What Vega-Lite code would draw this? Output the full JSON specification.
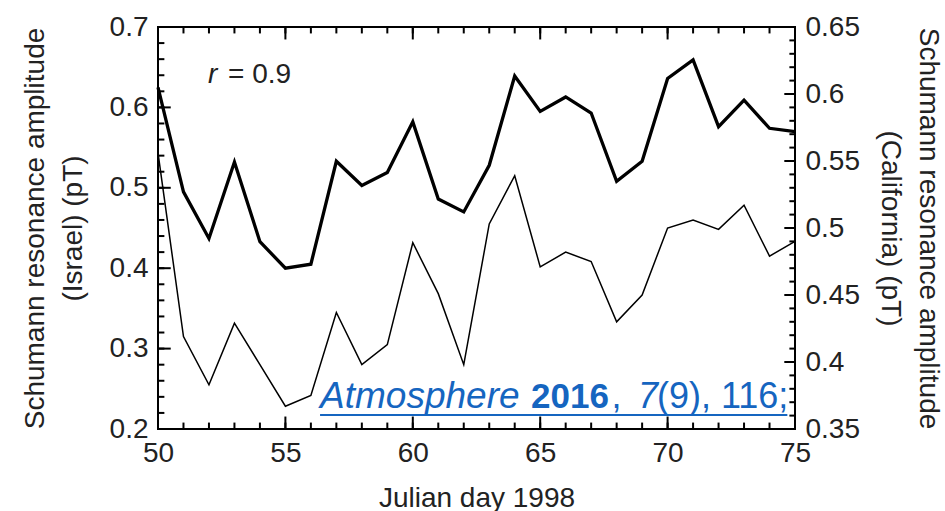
{
  "$schema": "https://vega.github.io/schema/vega-lite/v6.json",
  "width": 637,
  "height": 402,
  "autosize": "none",
  "padding": {"left": 158, "top": 27, "right": 150, "bottom": 82},
  "background": "white",
  "config": {
    "view": {"stroke": "black", "strokeWidth": 2},
    "font": "Liberation Sans",
    "axis": {
      "grid": false,
      "domain": false,
      "ticks": false,
      "labelFont": "Liberation Sans",
      "labelFontSize": 28,
      "labelColor": "#222222",
      "labelFlush": false,
      "labelOverlap": false,
      "titleFont": "Liberation Sans",
      "titleFontSize": 28,
      "titleFontWeight": "normal",
      "titleColor": "#222222"
    },
    "rule": {"color": "#000000", "strokeWidth": 2, "opacity": 1}
  },
  "datasets": {
    "series": [
      {"day": 50, "israel": 0.625, "california": 0.556},
      {"day": 51, "israel": 0.495, "california": 0.419},
      {"day": 52, "israel": 0.437, "california": 0.383},
      {"day": 53, "israel": 0.532, "california": 0.429},
      {"day": 54, "israel": 0.433, "california": 0.398},
      {"day": 55, "israel": 0.400, "california": 0.367},
      {"day": 56, "israel": 0.405, "california": 0.375},
      {"day": 57, "israel": 0.533, "california": 0.437},
      {"day": 58, "israel": 0.503, "california": 0.398},
      {"day": 59, "israel": 0.519, "california": 0.413},
      {"day": 60, "israel": 0.582, "california": 0.489},
      {"day": 61, "israel": 0.486, "california": 0.451},
      {"day": 62, "israel": 0.470, "california": 0.398},
      {"day": 63, "israel": 0.528, "california": 0.503},
      {"day": 64, "israel": 0.639, "california": 0.539},
      {"day": 65, "israel": 0.595, "california": 0.471},
      {"day": 66, "israel": 0.613, "california": 0.482},
      {"day": 67, "israel": 0.593, "california": 0.475},
      {"day": 68, "israel": 0.508, "california": 0.430},
      {"day": 69, "israel": 0.533, "california": 0.450},
      {"day": 70, "israel": 0.636, "california": 0.500},
      {"day": 71, "israel": 0.659, "california": 0.506},
      {"day": 72, "israel": 0.576, "california": 0.499},
      {"day": 73, "israel": 0.609, "california": 0.517},
      {"day": 74, "israel": 0.574, "california": 0.479},
      {"day": 75, "israel": 0.570, "california": 0.490}
    ],
    "days": [{"v":50},{"v":51},{"v":52},{"v":53},{"v":54},{"v":55},{"v":56},{"v":57},{"v":58},{"v":59},{"v":60},{"v":61},{"v":62},{"v":63},{"v":64},{"v":65},{"v":66},{"v":67},{"v":68},{"v":69},{"v":70},{"v":71},{"v":72},{"v":73},{"v":74},{"v":75}],
    "lvals": [{"v":0.2},{"v":0.22},{"v":0.24},{"v":0.26},{"v":0.28},{"v":0.3},{"v":0.32},{"v":0.34},{"v":0.36},{"v":0.38},{"v":0.4},{"v":0.42},{"v":0.44},{"v":0.46},{"v":0.48},{"v":0.5},{"v":0.52},{"v":0.54},{"v":0.56},{"v":0.58},{"v":0.6},{"v":0.62},{"v":0.64},{"v":0.66},{"v":0.68},{"v":0.7}],
    "rvals": [{"v":0.35},{"v":0.36},{"v":0.37},{"v":0.38},{"v":0.39},{"v":0.4},{"v":0.41},{"v":0.42},{"v":0.43},{"v":0.44},{"v":0.45},{"v":0.46},{"v":0.47},{"v":0.48},{"v":0.49},{"v":0.5},{"v":0.51},{"v":0.52},{"v":0.53},{"v":0.54},{"v":0.55},{"v":0.56},{"v":0.57},{"v":0.58},{"v":0.59},{"v":0.6},{"v":0.61},{"v":0.62},{"v":0.63},{"v":0.64},{"v":0.65}]
  },
  "layer": [
    {
      "data": {"name": "series"},
      "mark": {"type": "line", "color": "black", "strokeWidth": 3.3},
      "encoding": {
        "x": {
          "field": "day", "type": "quantitative",
          "scale": {"domain": [50, 75], "nice": false, "zero": false},
          "axis": {
            "orient": "bottom",
            "values": [50, 55, 60, 65, 70, 75],
            "labelPadding": 10,
            "title": "Julian day 1998",
            "titlePadding": 17
          }
        },
        "y": {
          "field": "israel", "type": "quantitative",
          "scale": {"domain": [0.2, 0.7], "nice": false, "zero": false},
          "axis": {
            "orient": "left",
            "values": [0.2, 0.3, 0.4, 0.5, 0.6, 0.7],
            "format": ".1f",
            "labelPadding": 10,
            "title": ["Schumann resonance amplitude", "(Israel) (pT)"],
            "titleLineHeight": 38,
            "titlePadding": 22
          }
        }
      }
    },
    {
      "data": {"name": "series"},
      "mark": {"type": "line", "color": "black", "strokeWidth": 1.5},
      "encoding": {
        "x": {
          "field": "day", "type": "quantitative",
          "scale": {"domain": [50, 75], "nice": false, "zero": false},
          "axis": null
        },
        "y": {
          "field": "california", "type": "quantitative",
          "scale": {"domain": [0.35, 0.65], "nice": false, "zero": false},
          "axis": {
            "orient": "right",
            "values": [0.35, 0.4, 0.45, 0.5, 0.55, 0.6, 0.65],
            "format": ".2~f",
            "labelPadding": 10,
            "title": ["Schumann resonance amplitude", "(California) (pT)"],
            "titleLineHeight": 38,
            "titlePadding": 16
          }
        }
      }
    },
    {
      "data": {"name": "days"},
      "mark": {"type": "rule"},
      "encoding": {
        "x": {"field": "v", "type": "quantitative", "scale": {"domain": [50, 75], "nice": false, "zero": false}, "axis": null},
        "y": {"datum": 0.2, "type": "quantitative", "scale": {"domain": [0.2, 0.7], "nice": false, "zero": false}, "axis": null},
        "y2": {"datum": 0.208}
      }
    },
    {
      "data": {"name": "days"},
      "transform": [{"filter": "datum.v % 5 === 0"}],
      "mark": {"type": "rule"},
      "encoding": {
        "x": {"field": "v", "type": "quantitative", "scale": {"domain": [50, 75], "nice": false, "zero": false}, "axis": null},
        "y": {"datum": 0.2, "type": "quantitative", "scale": {"domain": [0.2, 0.7], "nice": false, "zero": false}, "axis": null},
        "y2": {"datum": 0.2155}
      }
    },
    {
      "data": {"name": "days"},
      "mark": {"type": "rule"},
      "encoding": {
        "x": {"field": "v", "type": "quantitative", "scale": {"domain": [50, 75], "nice": false, "zero": false}, "axis": null},
        "y": {"datum": 0.7, "type": "quantitative", "scale": {"domain": [0.2, 0.7], "nice": false, "zero": false}, "axis": null},
        "y2": {"datum": 0.692}
      }
    },
    {
      "data": {"name": "days"},
      "transform": [{"filter": "datum.v % 5 === 0"}],
      "mark": {"type": "rule"},
      "encoding": {
        "x": {"field": "v", "type": "quantitative", "scale": {"domain": [50, 75], "nice": false, "zero": false}, "axis": null},
        "y": {"datum": 0.7, "type": "quantitative", "scale": {"domain": [0.2, 0.7], "nice": false, "zero": false}, "axis": null},
        "y2": {"datum": 0.6845}
      }
    },
    {
      "data": {"name": "lvals"},
      "mark": {"type": "rule"},
      "encoding": {
        "x": {"datum": 50, "type": "quantitative", "scale": {"domain": [50, 75], "nice": false, "zero": false}, "axis": null},
        "x2": {"datum": 50.25},
        "y": {"field": "v", "type": "quantitative", "scale": {"domain": [0.2, 0.7], "nice": false, "zero": false}, "axis": null}
      }
    },
    {
      "data": {"name": "lvals"},
      "transform": [{"filter": "abs(datum.v*10 - round(datum.v*10)) < 0.001"}],
      "mark": {"type": "rule"},
      "encoding": {
        "x": {"datum": 50, "type": "quantitative", "scale": {"domain": [50, 75], "nice": false, "zero": false}, "axis": null},
        "x2": {"datum": 50.5},
        "y": {"field": "v", "type": "quantitative", "scale": {"domain": [0.2, 0.7], "nice": false, "zero": false}, "axis": null}
      }
    },
    {
      "data": {"name": "rvals"},
      "mark": {"type": "rule"},
      "encoding": {
        "x": {"datum": 75, "type": "quantitative", "scale": {"domain": [50, 75], "nice": false, "zero": false}, "axis": null},
        "x2": {"datum": 74.78},
        "y": {"field": "v", "type": "quantitative", "scale": {"domain": [0.35, 0.65], "nice": false, "zero": false}, "axis": null}
      }
    },
    {
      "data": {"name": "rvals"},
      "transform": [{"filter": "abs(datum.v*20 - round(datum.v*20)) < 0.001"}],
      "mark": {"type": "rule"},
      "encoding": {
        "x": {"datum": 75, "type": "quantitative", "scale": {"domain": [50, 75], "nice": false, "zero": false}, "axis": null},
        "x2": {"datum": 74.58},
        "y": {"field": "v", "type": "quantitative", "scale": {"domain": [0.35, 0.65], "nice": false, "zero": false}, "axis": null}
      }
    },
    {
      "data": {"values": [{}]},
      "mark": {"type": "text", "text": "r", "fontStyle": "italic", "fontSize": 28, "align": "left", "baseline": "alphabetic", "color": "#222222"},
      "encoding": {
        "x": {"datum": 51.96, "type": "quantitative", "scale": {"domain": [50, 75], "nice": false, "zero": false}, "axis": null},
        "y": {"datum": 0.630, "type": "quantitative", "scale": {"domain": [0.2, 0.7], "nice": false, "zero": false}, "axis": null}
      }
    },
    {
      "data": {"values": [{}]},
      "mark": {"type": "text", "text": "= 0.9", "fontSize": 28, "align": "left", "baseline": "alphabetic", "color": "#222222"},
      "encoding": {
        "x": {"datum": 52.75, "type": "quantitative", "scale": {"domain": [50, 75], "nice": false, "zero": false}, "axis": null},
        "y": {"datum": 0.630, "type": "quantitative", "scale": {"domain": [0.2, 0.7], "nice": false, "zero": false}, "axis": null}
      }
    },
    {
      "data": {"values": [{}]},
      "mark": {"type": "text", "text": "Atmosphere", "fontStyle": "italic", "fontSize": 37, "align": "left", "baseline": "alphabetic", "color": "#1565c0"},
      "encoding": {
        "x": {"datum": 56.36, "type": "quantitative", "scale": {"domain": [50, 75], "nice": false, "zero": false}, "axis": null},
        "y": {"datum": 0.226, "type": "quantitative", "scale": {"domain": [0.2, 0.7], "nice": false, "zero": false}, "axis": null}
      }
    },
    {
      "data": {"values": [{}]},
      "mark": {"type": "text", "text": "2016", "fontWeight": "bold", "fontSize": 35, "align": "left", "baseline": "alphabetic", "color": "#1565c0"},
      "encoding": {
        "x": {"datum": 64.64, "type": "quantitative", "scale": {"domain": [50, 75], "nice": false, "zero": false}, "axis": null},
        "y": {"datum": 0.226, "type": "quantitative", "scale": {"domain": [0.2, 0.7], "nice": false, "zero": false}, "axis": null}
      }
    },
    {
      "data": {"values": [{}]},
      "mark": {"type": "text", "text": ",", "fontSize": 36, "align": "left", "baseline": "alphabetic", "color": "#1565c0"},
      "encoding": {
        "x": {"datum": 67.8, "type": "quantitative", "scale": {"domain": [50, 75], "nice": false, "zero": false}, "axis": null},
        "y": {"datum": 0.226, "type": "quantitative", "scale": {"domain": [0.2, 0.7], "nice": false, "zero": false}, "axis": null}
      }
    },
    {
      "data": {"values": [{}]},
      "mark": {"type": "text", "text": "7", "fontStyle": "italic", "fontSize": 36, "align": "left", "baseline": "alphabetic", "color": "#1565c0"},
      "encoding": {
        "x": {"datum": 68.84, "type": "quantitative", "scale": {"domain": [50, 75], "nice": false, "zero": false}, "axis": null},
        "y": {"datum": 0.226, "type": "quantitative", "scale": {"domain": [0.2, 0.7], "nice": false, "zero": false}, "axis": null}
      }
    },
    {
      "data": {"values": [{}]},
      "mark": {"type": "text", "text": "(9), 116;", "fontSize": 36, "align": "left", "baseline": "alphabetic", "color": "#1565c0"},
      "encoding": {
        "x": {"datum": 69.58, "type": "quantitative", "scale": {"domain": [50, 75], "nice": false, "zero": false}, "axis": null},
        "y": {"datum": 0.226, "type": "quantitative", "scale": {"domain": [0.2, 0.7], "nice": false, "zero": false}, "axis": null}
      }
    },
    {
      "data": {"values": [{}]},
      "mark": {"type": "rule", "color": "#1565c0", "strokeWidth": 2},
      "encoding": {
        "x": {"datum": 56.36, "type": "quantitative", "scale": {"domain": [50, 75], "nice": false, "zero": false}, "axis": null},
        "x2": {"datum": 74.7},
        "y": {"datum": 0.2174, "type": "quantitative", "scale": {"domain": [0.2, 0.7], "nice": false, "zero": false}, "axis": null}
      }
    }
  ],
  "resolve": {"scale": {"y": "independent"}, "axis": {"x": "independent", "y": "independent"}}
}
